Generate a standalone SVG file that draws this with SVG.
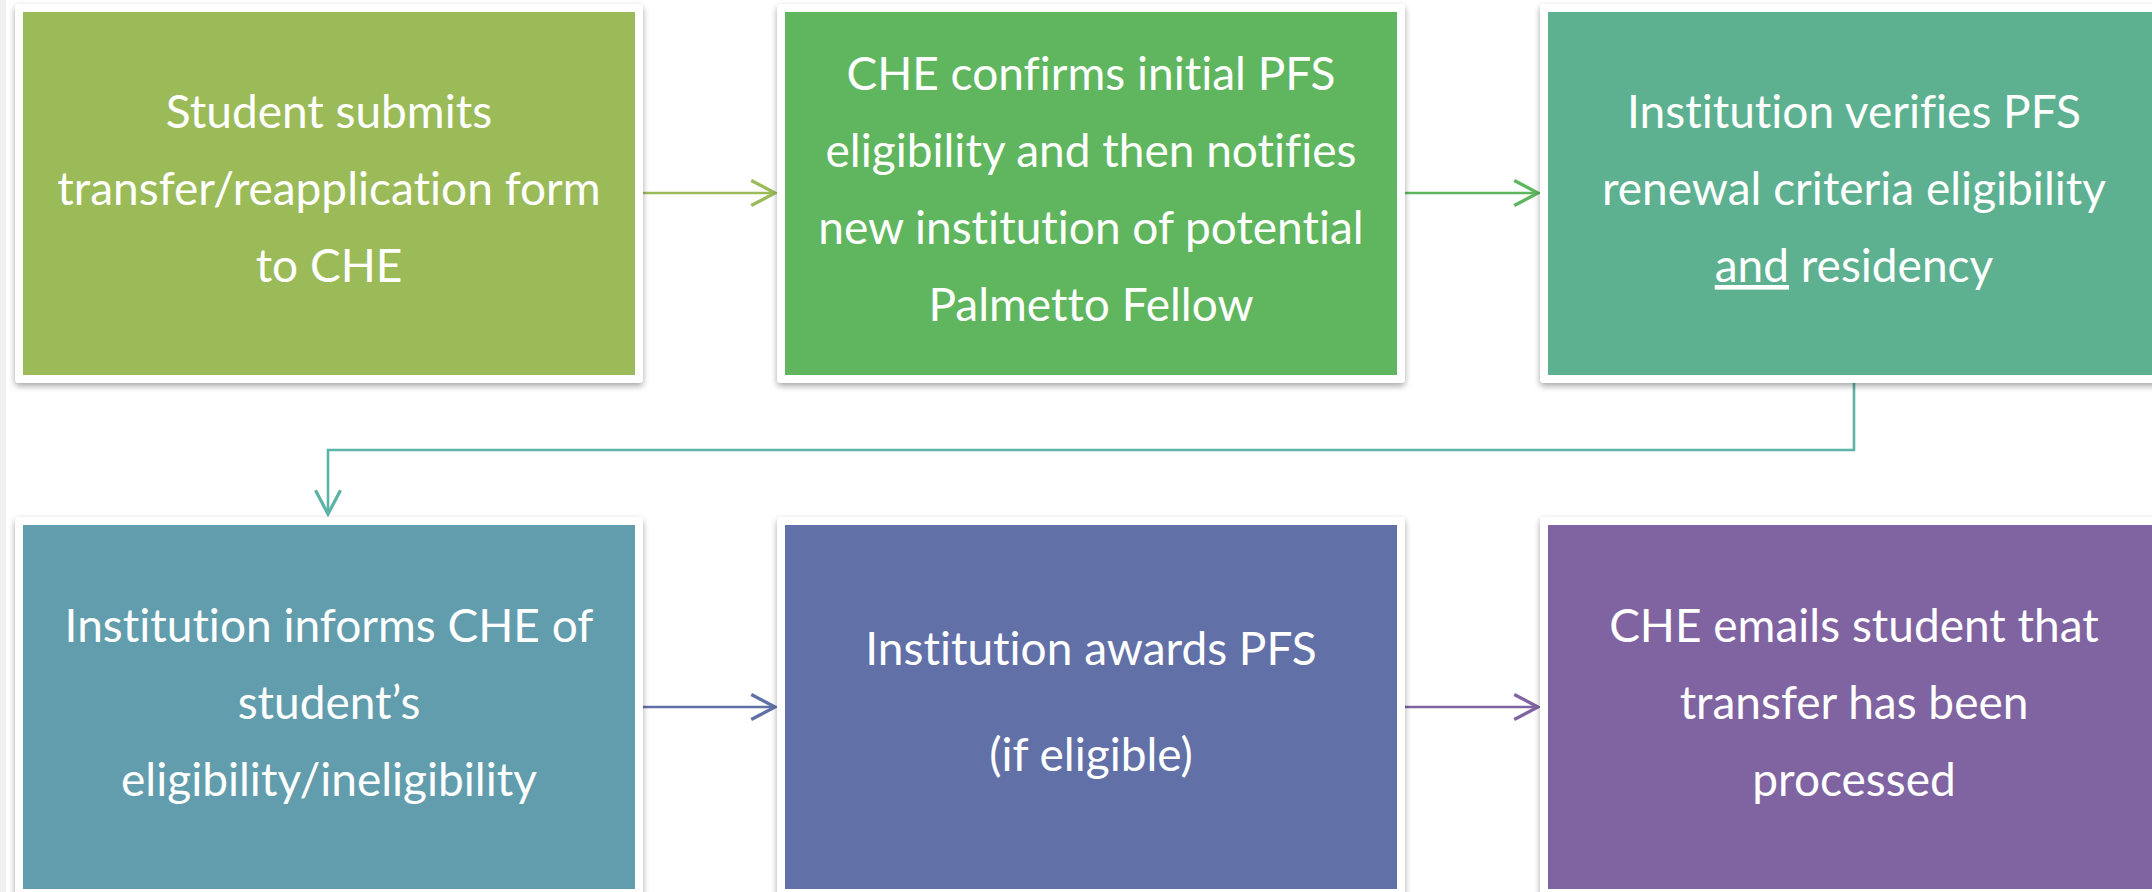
<svg xmlns="http://www.w3.org/2000/svg" width="2152" height="892" viewBox="0 0 2152 892">
<defs>
<filter id="sh" x="-5%" y="-5%" width="110%" height="115%">
<feDropShadow dx="0" dy="3" stdDeviation="3" flood-color="#000" flood-opacity="0.35"/>
</filter>
<marker id="m1" markerUnits="userSpaceOnUse" markerWidth="30" markerHeight="30" refX="0" refY="0" viewBox="-22 -12 24 24" orient="auto"><path d="M-19,-10 L0,0 L-19,10" fill="none" stroke="#9BBB59" stroke-width="2.6"/></marker>
<marker id="m2" markerUnits="userSpaceOnUse" markerWidth="30" markerHeight="30" refX="0" refY="0" viewBox="-22 -12 24 24" orient="auto"><path d="M-19,-10 L0,0 L-19,10" fill="none" stroke="#5DB65D" stroke-width="2.6"/></marker>
<marker id="m3" markerUnits="userSpaceOnUse" markerWidth="30" markerHeight="30" refX="0" refY="0" viewBox="-22 -12 24 24" orient="auto"><path d="M-19,-10 L0,0 L-19,10" fill="none" stroke="#5DB3A6" stroke-width="2.6"/></marker>
<marker id="m4" markerUnits="userSpaceOnUse" markerWidth="30" markerHeight="30" refX="0" refY="0" viewBox="-22 -12 24 24" orient="auto"><path d="M-19,-10 L0,0 L-19,10" fill="none" stroke="#6270A8" stroke-width="2.6"/></marker>
<marker id="m5" markerUnits="userSpaceOnUse" markerWidth="30" markerHeight="30" refX="0" refY="0" viewBox="-22 -12 24 24" orient="auto"><path d="M-19,-10 L0,0 L-19,10" fill="none" stroke="#8064A2" stroke-width="2.6"/></marker>
</defs>
<style>
.frame{fill:#ffffff;filter:url(#sh)}
.t{font-family:"Lato","Open Sans","DejaVu Sans",sans-serif;font-size:46px;fill:#ffffff;text-anchor:middle;font-variant-ligatures:none;font-feature-settings:"liga" 0}
.c{fill:none;stroke-width:2.6}
</style>
<rect x="0" y="0" width="2152" height="892" fill="#ffffff"/>
<rect x="0" y="0" width="6" height="892" fill="#f1f1f1"/>

<g id="connectors">
<path class="c" d="M643,193 L775,193" stroke="#9BBB59" marker-end="url(#m1)"/>
<path class="c" d="M1405,193 L1538,193" stroke="#5DB65D" marker-end="url(#m2)"/>
<path class="c" d="M1854,383 L1854,450 L328,450 L328,514" stroke="#5DB3A6" marker-end="url(#m3)"/>
<path class="c" d="M643,707 L775,707" stroke="#6270A8" marker-end="url(#m4)"/>
<path class="c" d="M1405,707 L1538,707" stroke="#8064A2" marker-end="url(#m5)"/>
</g>

<g id="node1">
<rect class="frame" x="15" y="4" width="628" height="379" rx="4"/>
<rect x="23" y="12" width="612" height="363" fill="#9BBB59"/>
<text class="t" x="329" y="128">Student submits</text>
<text class="t" x="329" y="205">transfer/reapplication form</text>
<text class="t" x="329" y="282">to CHE</text>
</g>

<g id="node2">
<rect class="frame" x="777" y="4" width="628" height="379" rx="4"/>
<rect x="785" y="12" width="612" height="363" fill="#5FB65E"/>
<text class="t" x="1091" y="90">CHE confirms initial PFS</text>
<text class="t" x="1091" y="167">eligibility and then notifies</text>
<text class="t" x="1091" y="244">new institution of potential</text>
<text class="t" x="1091" y="321">Palmetto Fellow</text>
</g>

<g id="node3">
<rect class="frame" x="1540" y="4" width="628" height="379" rx="4"/>
<rect x="1548" y="12" width="612" height="363" fill="#5DB190"/>
<text class="t" x="1854" y="128">Institution verifies PFS</text>
<text class="t" x="1854" y="205">renewal criteria eligibility</text>
<text class="t" x="1854" y="282"><tspan style="text-decoration:underline">and</tspan> residency</text>
</g>

<g id="node4">
<rect class="frame" x="15" y="517" width="628" height="380" rx="4"/>
<rect x="23" y="525" width="612" height="364" fill="#619DAD"/>
<text class="t" x="329" y="642">Institution informs CHE of</text>
<text class="t" x="329" y="719">student’s</text>
<text class="t" x="329" y="796">eligibility/ineligibility</text>
</g>

<g id="node5">
<rect class="frame" x="777" y="517" width="628" height="380" rx="4"/>
<rect x="785" y="525" width="612" height="364" fill="#6270A8"/>
<text class="t" x="1091" y="665">Institution awards PFS</text>
<text class="t" x="1091" y="771">(if eligible)</text>
</g>

<g id="node6">
<rect class="frame" x="1540" y="517" width="628" height="380" rx="4"/>
<rect x="1548" y="525" width="612" height="364" fill="#8064A2"/>
<text class="t" x="1854" y="642">CHE emails student that</text>
<text class="t" x="1854" y="719">transfer has been</text>
<text class="t" x="1854" y="796">processed</text>
</g>
</svg>
